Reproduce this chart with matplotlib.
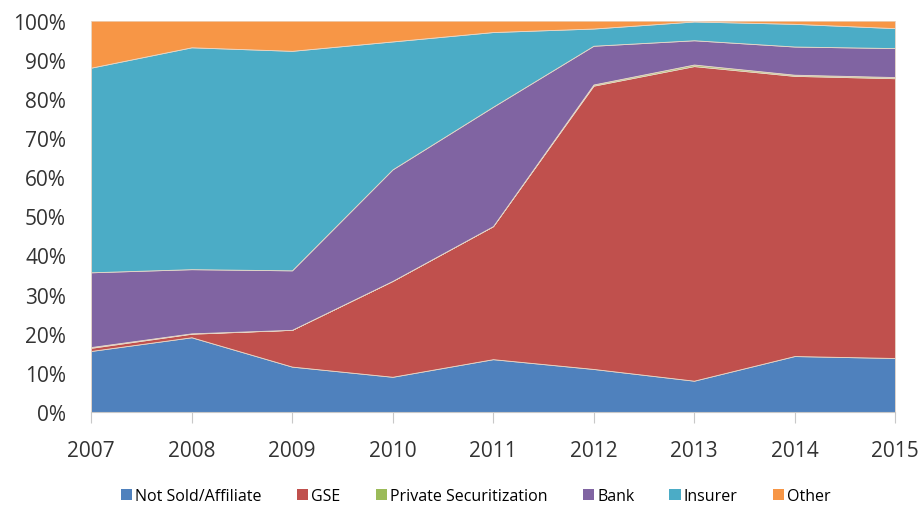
import matplotlib
matplotlib.use('Agg')
import matplotlib.pyplot as plt
from matplotlib.patches import Patch

plt.rcParams['font.family'] = ['Open Sans', 'DejaVu Sans']

# data (share of total, %)
years = [2007, 2008, 2009, 2010, 2011, 2012, 2013, 2014, 2015]
not_sold = [15.6, 19.1, 11.6, 9.0, 13.5, 11.0, 8.0, 14.3, 13.8]
gse = [0.8, 0.9, 9.4, 24.5, 34.0, 72.4, 80.4, 71.6, 71.5]
private = [0.2, 0.1, 0.0, 0.0, 0.0, 0.3, 0.4, 0.3, 0.3]
bank = [19.1, 16.4, 15.2, 28.5, 30.5, 9.9, 6.2, 7.2, 7.4]
insurer = [52.3, 56.7, 56.1, 32.7, 19.1, 4.4, 4.8, 5.8, 5.1]
other = [12.0, 6.8, 7.7, 5.3, 2.9, 2.0, 0.2, 0.8, 1.9]

labels = ['Not Sold/Affiliate', 'GSE', 'Private Securitization', 'Bank', 'Insurer', 'Other']
colors = ['#4F81BD', '#C0504D', '#9BBB59', '#8064A2', '#4BACC6', '#F79646']

fig = plt.figure(figsize=(9.24, 5.1), dpi=100)
ax = fig.add_axes([91/924, 1 - 413/510, (895 - 91)/924, (413 - 21.7)/510])

ax.stackplot(years, not_sold, gse, private, bank, insurer, other,
             colors=colors, edgecolor='#e8d8c8', linewidth=0.6)

ax.set_xlim(2007, 2015)
ax.set_ylim(0, 100)
ax.set_xticks(years)
ax.set_yticks(range(0, 101, 10))
ax.set_yticklabels([str(v) + '%' for v in range(0, 101, 10)])
ax.tick_params(axis='both', labelsize=15, labelcolor='#333333')
ax.tick_params(axis='x', length=8, color='#c8c8c8', pad=12)
ax.tick_params(axis='y', length=0, pad=18)

for side in ['top', 'right', 'left']:
    ax.spines[side].set_visible(False)
ax.spines['bottom'].set_color('#c8c8c8')

handles = [Patch(facecolor=c, edgecolor='none') for c in colors]
fig.legend(handles, labels, loc='center', bbox_to_anchor=(0.515, 1 - 497/510),
           ncol=6, frameon=False, handlelength=0.7, handleheight=0.7,
           handletextpad=0.2, columnspacing=2.2,
           prop={'size': 11.5})

fig.savefig('out.png', dpi=100)
